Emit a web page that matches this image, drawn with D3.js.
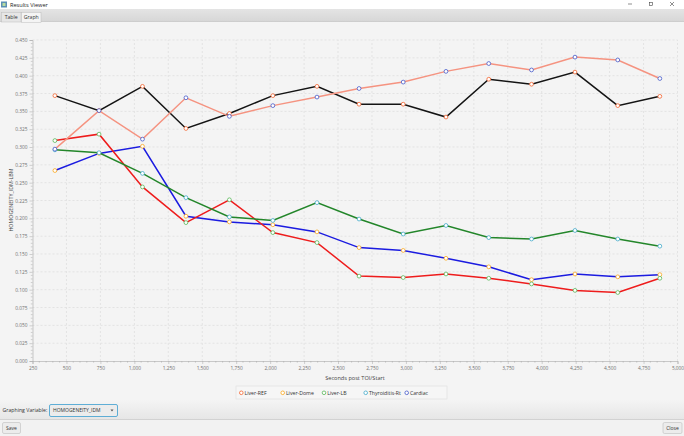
<!DOCTYPE html>
<meta charset="utf-8">
<head>
    <style>
        body { margin: 0; background: #f4f4f4; }
        text { font-family: "Open Sans", "Noto Sans", sans-serif; }
        .grid line { stroke: #e3e3e3; stroke-dasharray: 2,2; }
        .axis path, .axis line { stroke: #a9a9a9; }
        .axis text { fill: #707070; font-size: 4.8px; }
    </style>
</head>
<body>
<svg width="684" height="436"></svg>
<script src="https://cdn.jsdelivr.net/npm/d3@7"></script>
<script>

    // data
    var seriesNames = ["Liver-REF", "Liver-Dome", "Liver-LB", "Thyroiditis-Rt", "Cardiac"];
    var seconds = [415, 740, 1060, 1380, 1700, 2020, 2345, 2655, 2980, 3295, 3610, 3925, 4245, 4560, 4870];

    var liverRef = [0.372, 0.351, 0.385, 0.326, 0.347, 0.372, 0.385, 0.360, 0.360, 0.342, 0.395, 0.388, 0.405, 0.358, 0.371];
    var liverDome = [0.267, 0.291, 0.301, 0.203, 0.195, 0.191, 0.181, 0.159, 0.155, 0.144, 0.132, 0.114, 0.122, 0.118, 0.121];
    var liverLB = [0.309, 0.318, 0.244, 0.194, 0.226, 0.180, 0.166, 0.119, 0.117, 0.122, 0.116, 0.108, 0.099, 0.096, 0.116];
    var thyroiditisRt = [0.296, 0.292, 0.263, 0.229, 0.202, 0.197, 0.222, 0.199, 0.178, 0.190, 0.173, 0.171, 0.183, 0.171, 0.161];
    var cardiac = [0.297, 0.351, 0.311, 0.369, 0.343, 0.358, 0.370, 0.382, 0.391, 0.406, 0.417, 0.408, 0.426, 0.422, 0.396];

    var allValues = [liverRef, liverDome, liverLB, thyroiditisRt, cardiac];

    var xTicks = d3.range(250, 5001, 250);
    var yTicks = d3.range(0, 0.4501, 0.025);

    // styling (marker colours are the javafx defaults, lines were restyled)
    var markerColors = ["#f3622d", "#fba71b", "#57b757", "#41a9c9", "#4258c9"];
    var lineColors = ["#141414", "#1b1be0", "#ee1c1c", "#23862a", "#f59380"];

    var svg = d3.select("svg");

    // ---- window chrome ----
    svg.append("rect").attr("width", 684).attr("height", 9).attr("fill", "#ffffff");
    svg.append("rect").attr("x", 1).attr("y", 1.5).attr("width", 6).attr("height", 6).attr("fill", "#5b8fb5");
    svg.append("rect").attr("x", 2.5).attr("y", 3).attr("width", 3).attr("height", 3).attr("fill", "#b9dca0");
    svg.append("text").attr("x", 10).attr("y", 6.6).attr("font-size", 5.6).attr("fill", "#222").text("Results Viewer");
    svg.append("line").attr("x1", 628).attr("x2", 632).attr("y1", 4).attr("y2", 4).attr("stroke", "#444").attr("stroke-width", 0.6);
    svg.append("rect").attr("x", 649.5).attr("y", 2.5).attr("width", 3).attr("height", 3).attr("fill", "none").attr("stroke", "#444").attr("stroke-width", 0.6);
    svg.append("path").attr("d", "M670,2 L674,6 M674,2 L670,6").attr("stroke", "#444").attr("stroke-width", 0.6);

    // tab bar
    var tabGrad = svg.append("defs").append("linearGradient").attr("id", "tabbar").attr("x1", 0).attr("x2", 0).attr("y1", 0).attr("y2", 1);
    tabGrad.append("stop").attr("offset", 0).attr("stop-color", "#e4e4e4");
    tabGrad.append("stop").attr("offset", 1).attr("stop-color", "#d6d6d6");
    svg.append("rect").attr("y", 9).attr("width", 684).attr("height", 13).attr("fill", "url(#tabbar)");
    svg.append("line").attr("x1", 0).attr("x2", 684).attr("y1", 21.5).attr("y2", 21.5).attr("stroke", "#c8c8c8").attr("stroke-width", 0.6);
    svg.append("rect").attr("x", 1.5).attr("y", 12.5).attr("width", 19.5).attr("height", 9.5).attr("fill", "#e6e6e6").attr("stroke", "#bdbdbd").attr("stroke-width", 0.5);
    svg.append("text").attr("x", 11.2).attr("y", 19).attr("text-anchor", "middle").attr("font-size", 5.2).attr("fill", "#333").text("Table");
    svg.append("rect").attr("x", 21.5).attr("y", 12.5).attr("width", 19.5).attr("height", 10).attr("fill", "#f4f4f4").attr("stroke", "#bdbdbd").attr("stroke-width", 0.5);
    svg.append("text").attr("x", 31.2).attr("y", 19).attr("text-anchor", "middle").attr("font-size", 5.2).attr("fill", "#333").text("Graph");

    // ---- chart ----
    var x = d3.scaleLinear().domain([250, 5000]).range([32.5, 677.5]);
    var y = d3.scaleLinear().domain([0, 0.45]).range([361, 40]);

    svg.append("g").attr("class", "grid")
        .selectAll("line.v").data(xTicks.slice(1)).enter().append("line")
        .attr("x1", function (d) { return x(d); }).attr("x2", function (d) { return x(d); })
        .attr("y1", y(0)).attr("y2", y(0.45));
    svg.append("g").attr("class", "grid")
        .selectAll("line.h").data(yTicks.slice(1)).enter().append("line")
        .attr("x1", x(250)).attr("x2", x(5000))
        .attr("y1", function (d) { return y(d); }).attr("y2", function (d) { return y(d); });

    // minor ticks
    var xMinor = d3.range(250, 5000, 50).filter(function (d) { return d % 250 !== 0; });
    var yMinor = d3.range(0, 0.45, 0.005).filter(function (d, i) { return i % 5 !== 0; });

    var xAxis = svg.append("g").attr("class", "axis")
        .attr("transform", "translate(0," + y(0) + ")")
        .call(d3.axisBottom(x).tickValues(xTicks).tickSize(3).tickPadding(2.5)
            .tickFormat(d3.format(",")));
    xAxis.selectAll(".minor").data(xMinor).enter().append("line").attr("class", "minor")
        .attr("x1", function (d) { return x(d); }).attr("x2", function (d) { return x(d); })
        .attr("y1", 0).attr("y2", 1.7).attr("stroke", "#a9a9a9").attr("stroke-width", 0.5);

    var yAxis = svg.append("g").attr("class", "axis")
        .attr("transform", "translate(" + x(250) + ",0)")
        .call(d3.axisLeft(y).tickValues(yTicks).tickSize(3).tickPadding(2)
            .tickFormat(d3.format(".3f")));
    yAxis.selectAll(".minor").data(yMinor).enter().append("line").attr("class", "minor")
        .attr("y1", function (d) { return y(d); }).attr("y2", function (d) { return y(d); })
        .attr("x1", 0).attr("x2", -1.7).attr("stroke", "#a9a9a9").attr("stroke-width", 0.5);

    svg.selectAll(".axis .domain").attr("stroke-width", 0.6);
    svg.selectAll(".axis .tick line").attr("stroke-width", 0.5);

    svg.append("text")
        .attr("transform", "translate(12.5,200) rotate(-90)")
        .attr("text-anchor", "middle").attr("font-size", 5.3).attr("fill", "#444")
        .text("HOMOGENEITY_IDM-LBM");
    svg.append("text")
        .attr("x", 355).attr("y", 379.5)
        .attr("text-anchor", "middle").attr("font-size", 5.6).attr("fill", "#444")
        .text("Seconds post TOI/Start");

    var line = d3.line()
        .x(function (d, i) { return x(seconds[i]); })
        .y(function (d) { return y(d); });

    var series = svg.append("g").selectAll("g").data(allValues).enter().append("g");
    series.append("path")
        .attr("d", function (d) { return line(d); })
        .attr("fill", "none")
        .attr("stroke", function (d, i) { return lineColors[i]; })
        .attr("stroke-width", 1.5);

    series.each(function (vals, s) {
        d3.select(this).selectAll("circle").data(vals).enter().append("circle")
            .attr("cx", function (d, i) { return x(seconds[i]); })
            .attr("cy", function (d) { return y(d); })
            .attr("r", 1.9)
            .attr("fill", "#ffffff")
            .attr("stroke", markerColors[s])
            .attr("stroke-width", 0.8);
    });

    // legend
    var legendX = [241.3, 282.7, 324, 365.7, 406.7];
    svg.append("rect").attr("x", 236).attr("y", 386).attr("width", 211).attr("height", 13)
        .attr("fill", "#f6f6f6").attr("stroke", "#dedede").attr("stroke-width", 0.6);
    var legend = svg.append("g").selectAll("g").data(seriesNames).enter().append("g")
        .attr("transform", function (d, i) { return "translate(" + legendX[i] + ",392.8)"; });
    legend.append("circle").attr("r", 1.8).attr("fill", "#fff")
        .attr("stroke", function (d, i) { return markerColors[i]; }).attr("stroke-width", 0.8);
    legend.append("text").attr("x", 3.2).attr("y", 1.9).attr("font-size", 5.2).attr("fill", "#333")
        .text(function (d) { return d; });

    // ---- bottom controls ----
    var bot = svg.select("defs").append("linearGradient").attr("id", "bot").attr("x1", 0).attr("x2", 0).attr("y1", 0).attr("y2", 1);
    bot.append("stop").attr("offset", 0).attr("stop-color", "#f4f4f4");
    bot.append("stop").attr("offset", 1).attr("stop-color", "#e6e6e6");
    svg.append("rect").attr("y", 400).attr("width", 684).attr("height", 19.5).attr("fill", "url(#bot)");
    svg.append("line").attr("x1", 0).attr("x2", 684).attr("y1", 419.5).attr("y2", 419.5).attr("stroke", "#c6c6c6").attr("stroke-width", 0.7);
    svg.append("rect").attr("y", 420).attr("width", 684).attr("height", 16).attr("fill", "#f2f2f2");

    svg.append("text").attr("x", 2.5).attr("y", 412.3).attr("font-size", 5.2).attr("fill", "#333").text("Graphing Variable:");
    svg.append("rect").attr("x", 49.5).attr("y", 404.5).attr("width", 68).attr("height", 12)
        .attr("rx", 1.5).attr("fill", "#ececec").attr("stroke", "#4ea6d2").attr("stroke-width", 0.9);
    svg.append("text").attr("x", 53).attr("y", 412.3).attr("font-size", 5).attr("fill", "#333").text("HOMOGENEITY_IDM");
    svg.append("path").attr("d", "M110.5,409.5 L113.5,409.5 L112,411.5 Z").attr("fill", "#555");

    svg.append("rect").attr("x", 2.5).attr("y", 422.5).attr("width", 18).attr("height", 11)
        .attr("rx", 1.5).attr("fill", "#ececec").attr("stroke", "#bdbdbd").attr("stroke-width", 0.6);
    svg.append("text").attr("x", 11.5).attr("y", 429.8).attr("text-anchor", "middle").attr("font-size", 5).attr("fill", "#333").text("Save");
    svg.append("rect").attr("x", 663).attr("y", 422.5).attr("width", 19).attr("height", 11)
        .attr("rx", 1.5).attr("fill", "#ececec").attr("stroke", "#bdbdbd").attr("stroke-width", 0.6);
    svg.append("text").attr("x", 672.5).attr("y", 429.8).attr("text-anchor", "middle").attr("font-size", 5).attr("fill", "#333").text("Close");

</script>
</body>
